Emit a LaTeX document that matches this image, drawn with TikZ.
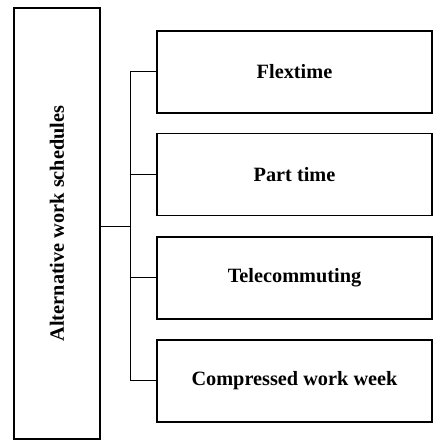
\documentclass[tikz,border=0pt]{standalone}
\usepackage{fontspec}
\setmainfont{Liberation Serif}
\begin{document}
\begin{tikzpicture}[x=1pt,y=1pt,
  box/.style={draw, line width=1.6pt, rectangle, inner sep=0pt},
  sub/.style={box, minimum width=275pt, minimum height=82pt},
  lbl/.style={font=\bfseries\fontsize{20.3}{24}\selectfont},
  conn/.style={line width=1pt}]
\useasboundingbox (0,0) rectangle (433,444);
\node[box, minimum width=86pt, minimum height=431pt] (main) at (57,220.5) {};
\node[lbl, rotate=90] (mainlbl) at (main.center) {Alternative work schedules};
\node[sub, lbl] (b1) at (294.5,372) {Flextime};
\node[sub, lbl] (b2) at (294.5,269.5) {Part time};
\node[sub, lbl] (b3) at (294.5,166) {Telecommuting};
\node[sub, lbl] (b4) at (294.5,63) {Compressed work week};
\coordinate (j) at (130,217);
\draw[conn] (main.east |- j) -- (j);
\draw[conn] (j |- b1.west) -- (j |- b4.west);
\foreach \b in {b1,b2,b3,b4}
  \draw[conn] (j |- \b.west) -- (\b.west);
\end{tikzpicture}
\end{document}
